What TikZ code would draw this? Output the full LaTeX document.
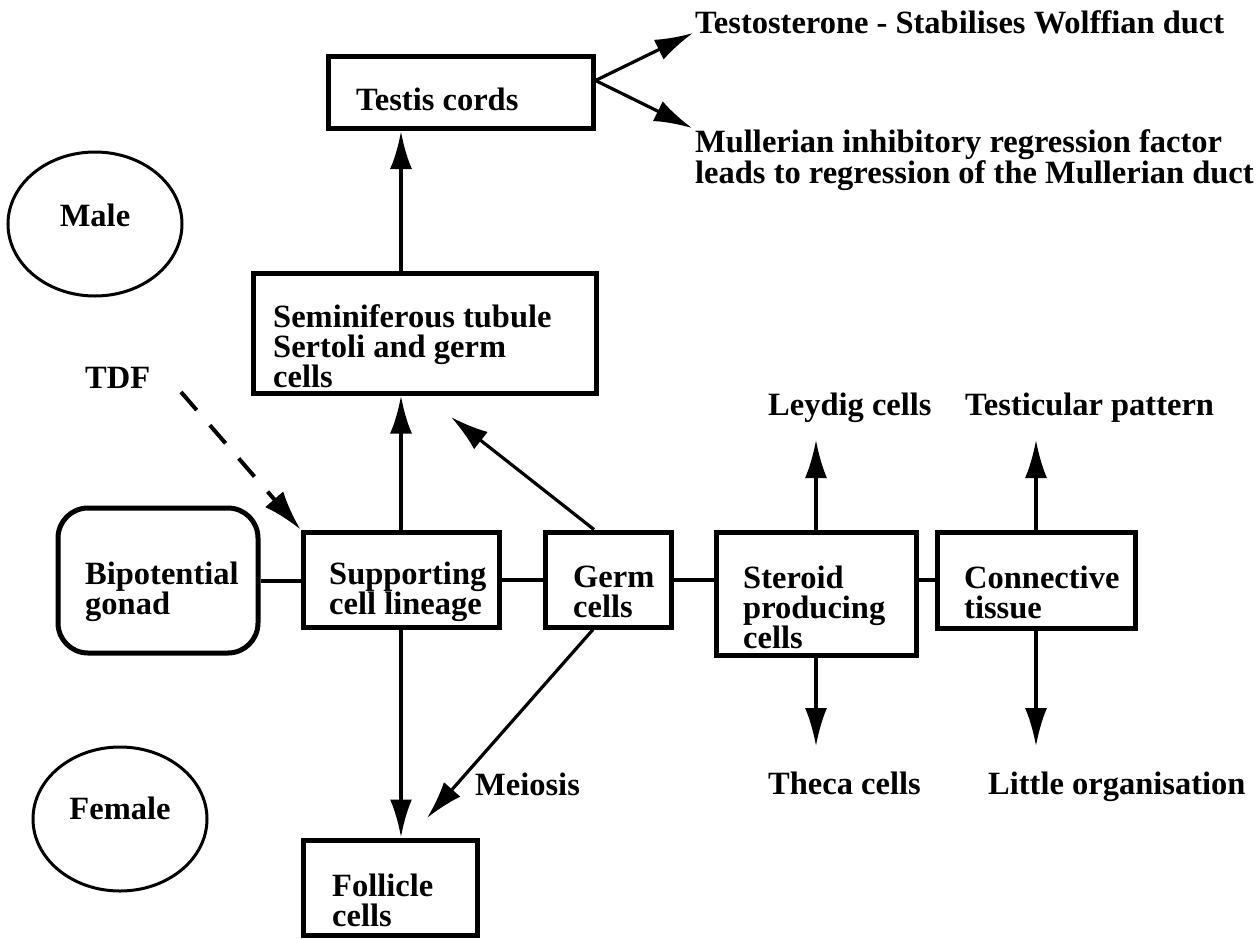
\documentclass[tikz,border=0pt]{standalone}
\usepackage{fontspec}
\setmainfont{Liberation Serif}
\usetikzlibrary{arrows.meta,shapes.geometric}
\begin{document}
\begin{tikzpicture}[x=1pt,y=-1pt,
  every node/.style={font=\fontsize{32.5}{30}\selectfont\bfseries, inner sep=0pt},
  box/.style={draw, line width=5pt},
  lbl/.style={align=left, anchor=west},
  word/.style={anchor=base west},
  oval/.style={draw, ellipse, line width=3pt, minimum width=174pt, minimum height=144pt, text height=22pt},
  link/.style={line width=4pt},
  arr/.style={line width=4pt, -{Latex[length=38pt,width=22pt]}},
  thinarr/.style={line width=3.2pt, -{Latex[length=38pt,width=22pt]}},
  tdfarr/.style={line width=4pt, dash pattern=on 24pt off 20pt, -{Latex[length=40pt,width=24pt]}},
]
\useasboundingbox (0,0) rectangle (1258,938);

% boxes
\node[box, minimum width=265pt, minimum height=72pt] (testis) at (460.5,92.5) {};
\node[box, minimum width=343pt, minimum height=120pt] (semin) at (424.5,333) {};
\node[box, rounded corners=30pt, minimum width=200pt, minimum height=145pt] (bip) at (158,580.5) {};
\node[box, minimum width=196pt, minimum height=95pt] (sup) at (401,579.5) {};
\node[box, minimum width=126pt, minimum height=95pt] (germ) at (608,579.5) {};
\node[box, minimum width=200pt, minimum height=123pt] (ster) at (816,593.5) {};
\node[box, minimum width=198pt, minimum height=96pt] (conn) at (1036,580) {};
\node[box, minimum width=174pt, minimum height=95pt] (foll) at (390,887.5) {};

% box texts
\node[lbl] (testisT) at (356,99) {Testis cords};
\node[lbl] (seminT) at (273,346) {Seminiferous tubule\\Sertoli and germ\\cells};
\node[lbl] (bipT) at (85,592) {Bipotential\\gonad};
\node[lbl] (supT) at (329,592) {Supporting\\cell lineage};
\node[lbl] (germT) at (573,592) {Germ\\cells};
\node[lbl] (sterT) at (743,607) {Steroid\\producing\\cells};
\node[lbl] (connT) at (964,592) {Connective\\tissue};
\node[lbl] (follT) at (332,900) {Follicle\\cells};

% ellipses
\node[oval, text depth=18pt] (male) at (95,224) {Male};
\node[oval, text depth=22pt] (female) at (120,819) {Female};

% free texts
\node[word] (testo) at (695,33) {Testosterone - Stabilises Wolffian duct};
\node[lbl, font=\fontsize{32.5}{29.5}\selectfont\bfseries] (mull) at (695,160) {Mullerian inhibitory regression factor\\leads to regression of the Mullerian duct};
\node[word] (tdf) at (85,388) {TDF};
\node[word] (leydig) at (768,415) {Leydig cells};
\node[word] (testic) at (965,415) {Testicular pattern};
\node[word] (meiosis) at (475,795) {Meiosis};
\node[word] (theca) at (768,794) {Theca cells};
\node[word] (little) at (988,794) {Little organisation};

% arrow ends
\coordinate (testoTip) at (693,33);
\coordinate (mullTip) at (692,128);
\coordinate (semTip) at (451,417);
\coordinate (follTip) at (427,818);
\coordinate (upTip) at (0,440);
\coordinate (downTip) at (0,746);
\coordinate (tdfStart) at (181,392);

% horizontal links
\draw[link] (bip.east) -- (bip.east -| sup.west);
\draw[link] (sup.east) -- (germ.west);
\draw[link] (germ.east) -- (germ.east -| ster.west);
\draw[link] (conn.west -| ster.east) -- (conn.west);

% arrows
\draw[arr] (sup.north) -- (sup.north |- semin.south);
\draw[arr] (sup.north |- semin.north) -- (sup.north |- testis.south);
\draw[arr] (sup.south) -- (sup.south |- foll.north);
\draw[thinarr] ([xshift=-14pt]germ.north) -- (semTip);
\draw[thinarr] ([xshift=-15pt]germ.south) -- (follTip);
\draw[thinarr] ([yshift=12pt]testis.east) -- (testoTip);
\draw[thinarr] ([yshift=12pt]testis.east) -- (mullTip);
\draw[thinarr] (ster.north) -- (ster.north |- upTip);
\draw[thinarr] (conn.north) -- (conn.north |- upTip);
\draw[thinarr] (ster.south) -- (ster.south |- downTip);
\draw[thinarr] (conn.south) -- (conn.south |- downTip);
\draw[tdfarr] (tdfStart) -- (sup.north west);
\end{tikzpicture}
\end{document}
